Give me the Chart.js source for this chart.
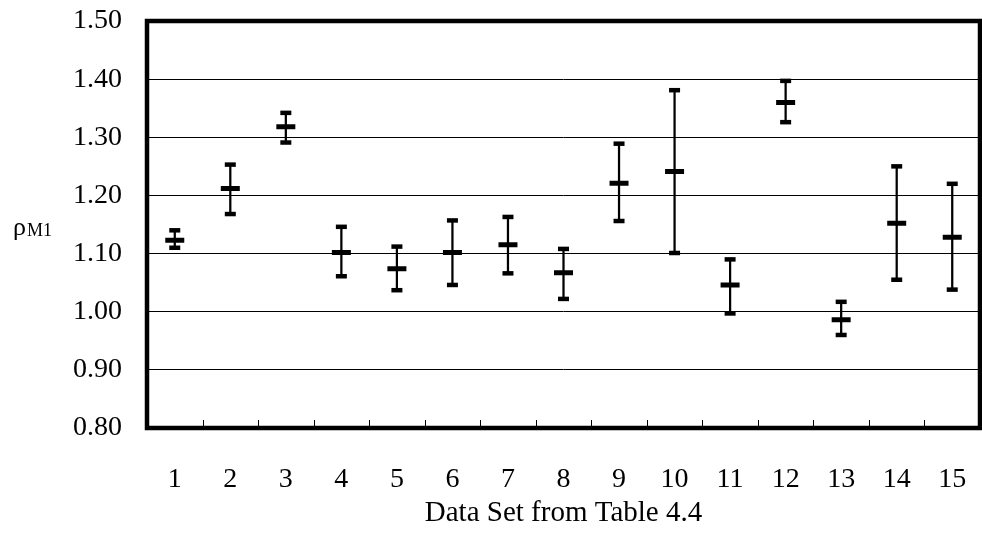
<!DOCTYPE html>
<html>
<head>
<meta charset="utf-8">
<script src="https://cdn.jsdelivr.net/npm/chart.js@4"></script>
<style>
  html, body { margin: 0; padding: 0; background: #fff; overflow: hidden; }
  canvas { display: block; }
</style>
</head>
<body>
<canvas id="grafica" width="982" height="553"></canvas>
<script>
// data
const dataSets = ['1','2','3','4','5','6','7','8','9','10','11','12','13','14','15'];
const centro = [1.123, 1.212, 1.318, 1.102, 1.074, 1.102, 1.115, 1.067, 1.221, 1.241, 1.046, 1.360, 0.986, 1.152, 1.128];
const arriba = [1.140, 1.253, 1.342, 1.146, 1.112, 1.157, 1.163, 1.108, 1.289, 1.381, 1.090, 1.397, 1.017, 1.250, 1.220];
const abajo  = [1.110, 1.168, 1.291, 1.061, 1.037, 1.046, 1.066, 1.022, 1.156, 1.101, 0.997, 1.326, 0.960, 1.055, 1.038];
const yTicks = [0.80, 0.90, 1.00, 1.10, 1.20, 1.30, 1.40, 1.50];

const serif = 'Liberation Serif';

// frame + inner tick marks + y label
const marco = {
  id: 'marco',
  afterDraw(chart) {
    const ctx = chart.ctx;
    const a = chart.chartArea;
    const x = chart.scales.x;
    ctx.save();
    ctx.strokeStyle = '#000';
    ctx.lineWidth = 1;
    for (let i = 1; i < dataSets.length; i++) {
      const px = Math.round((x.getPixelForValue(i - 1) + x.getPixelForValue(i)) / 2) + 0.5;
      ctx.beginPath();
      ctx.moveTo(px, a.bottom);
      ctx.lineTo(px, a.bottom - 8);
      ctx.stroke();
    }
    ctx.lineWidth = 4.5;
    ctx.strokeRect(a.left, a.top, a.right - a.left, a.bottom - a.top);

    ctx.fillStyle = '#000';
    ctx.textBaseline = 'alphabetic';
    ctx.font = '26px "' + serif + '"';
    ctx.fillText('ρ', 13, 235);
    const w = ctx.measureText('ρ').width;
    ctx.font = '18px "' + serif + '"';
    ctx.fillText('M1', 13 + w + 1, 236);
    ctx.restore();
  }
};

const ctx = document.getElementById('grafica').getContext('2d');
const myChart = new Chart(ctx, {
  type: 'bar',
  data: {
    labels: dataSets,
    datasets: [{
      type: 'bar',
      data: dataSets.map((d, i) => [abajo[i], arriba[i]]),
      backgroundColor: '#000',
      barThickness: 1.6,
      order: 3
    }, {
      type: 'line',
      data: arriba,
      showLine: false,
      pointStyle: 'line',
      pointRadius: 5.5,
      borderWidth: 4.5,
      borderColor: '#000',
      order: 1
    }, {
      type: 'line',
      data: abajo,
      showLine: false,
      pointStyle: 'line',
      pointRadius: 5.5,
      borderWidth: 4.5,
      borderColor: '#000',
      order: 1
    }, {
      type: 'line',
      data: centro,
      showLine: false,
      pointStyle: 'line',
      pointRadius: 9.5,
      borderWidth: 5,
      borderColor: '#000',
      order: 0
    }]
  },
  options: {
    responsive: false,
    animation: false,
    events: [],
    layout: { autoPadding: false, padding: { top: 21, right: 2, left: 0, bottom: 0 } },
    scales: {
      x: {
        offset: true,
        grid: { display: false, drawTicks: true, tickLength: 35 },
        border: { display: false },
        ticks: {
          color: '#000',
          padding: 0,
          maxRotation: 0,
          autoSkip: false,
          font: { family: serif, size: 28 }
        },
        title: {
          display: true,
          text: 'Data Set from Table 4.4',
          color: '#000',
          font: { family: serif, size: 29 },
          padding: { top: 0, bottom: 22 }
        },
        afterFit(scale) {
          scale.height = 125;
          scale.paddingLeft = 0;
          scale.paddingRight = 0;
        }
      },
      y: {
        min: 0.8,
        max: 1.5,
        afterBuildTicks(scale) { scale.ticks = yTicks.map(v => ({ value: v })); },
        grid: { color: '#000', lineWidth: 1, drawTicks: false },
        border: { display: false },
        ticks: {
          color: '#000',
          padding: 25,
          font: { family: serif, size: 28 },
          callback: v => Number(v).toFixed(2)
        },
        afterFit(scale) {
          scale.width = 147;
          scale.paddingTop = 0;
          scale.paddingBottom = 0;
        }
      }
    },
    plugins: {
      legend: { display: false },
      tooltip: { enabled: false }
    }
  },
  plugins: [marco]
});
</script>
</body>
</html>
